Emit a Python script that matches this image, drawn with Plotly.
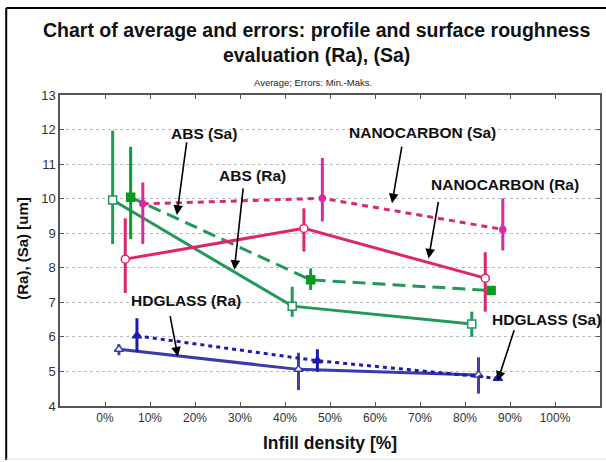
import plotly.graph_objects as go

# ---- data ----
abs_ra_x = [1.7, 41.6, 81.5]
abs_ra_y = [9.96, 6.89, 6.37]
abs_ra_hi = [11.97, 7.45, 6.73]
abs_ra_lo = [8.69, 6.58, 6.00]

abs_sa_x = [5.7, 45.7, 85.8]
abs_sa_y = [10.04, 7.65, 7.34]
abs_sa_hi = [11.50, 7.98, 7.38]
abs_sa_lo = [8.83, 7.36, 7.30]

nano_ra_x = [4.5, 44.2, 84.5]
nano_ra_y = [8.25, 9.14, 7.70]
nano_ra_hi = [9.43, 9.72, 8.45]
nano_ra_lo = [7.27, 8.47, 6.73]

nano_sa_x = [8.4, 48.3, 88.4]
nano_sa_y = [9.85, 10.01, 9.11]
nano_sa_hi = [10.47, 11.18, 10.01]
nano_sa_lo = [8.69, 9.34, 8.50]

hd_ra_x = [3.1, 43.0, 83.0]
hd_ra_y = [5.64, 5.06, 4.90]
hd_ra_hi = [5.79, 5.54, 5.41]
hd_ra_lo = [5.47, 4.46, 4.36]

hd_sa_x = [7.1, 47.2, 87.3]
hd_sa_y = [6.03, 5.31, 4.80]
hd_sa_hi = [6.54, 5.64, 4.84]
hd_sa_lo = [5.57, 4.99, 4.76]

x_tick_vals = [0, 10, 20, 30, 40, 50, 60, 70, 80, 90, 100]
x_tick_text = ["0%", "10%", "20%", "30%", "40%", "50%", "60%", "70%", "80%", "90%", "100%"]
y_tick_vals = [4, 5, 6, 7, 8, 9, 10, 11, 12, 13]

# label text, label position (data), arrow head (data), arrow tail offset (px)
labels = ["ABS (Sa)", "ABS (Ra)", "NANOCARBON (Sa)", "NANOCARBON (Ra)", "HDGLASS (Ra)", "HDGLASS (Sa)"]
label_x = [21.9, 32.8, 70.6, 88.9, 18.0, 98.1]
label_y = [11.89, 10.66, 11.91, 10.42, 7.05, 6.49]
head_x = [15.97, 28.74, 63.79, 71.91, 16.19, 87.26]
head_y = [9.53, 7.94, 9.87, 8.27, 5.43, 4.73]
tail_dx = [10, 9, 10, 10, -8, 17]
tail_dy = [-74, -83, -58, -58, -42, -52]

FONT = "Liberation Sans, Arial, sans-serif"

def err(y, hi, lo):
    return dict(type="data", symmetric=False,
                array=[h - v for h, v in zip(hi, y)],
                arrayminus=[v - l for v, l in zip(y, lo)],
                thickness=3, width=0)

fig = go.Figure()

def add(x, y, hi, lo, color, ecolor, dash, symbol, msize, mfill, mline):
    e = err(y, hi, lo)
    e["color"] = ecolor
    fig.add_trace(go.Scatter(
        x=x, y=y, mode="lines+markers",
        line=dict(color=color, width=3, dash=dash),
        marker=dict(symbol=symbol, size=msize, color=mfill,
                    line=dict(color=mline, width=1.5)),
        error_y=e, showlegend=False, cliponaxis=False))

add(abs_ra_x, abs_ra_y, abs_ra_hi, abs_ra_lo, "#23985a", "#23985a", "solid", "square", 8, "white", "#23985a")
add(abs_sa_x, abs_sa_y, abs_sa_hi, abs_sa_lo, "#23985a", "#0f9a3a", "13px,7px", "square", 8, "#0c9a1e", "#0c9a1e")
add(nano_ra_x, nano_ra_y, nano_ra_hi, nano_ra_lo, "#e0256e", "#e0256e", "solid", "circle", 8, "white", "#e0256e")
add(nano_sa_x, nano_sa_y, nano_sa_hi, nano_sa_lo, "#d42a78", "#d92aa6", "6px,5px", "circle", 6, "#d92aa6", "#d92aa6")
add(hd_ra_x, hd_ra_y, hd_ra_hi, hd_ra_lo, "#3a3aa8", "#4040a8", "solid", "triangle-up", 8, "white", "#3a3aa8")
add(hd_sa_x, hd_sa_y, hd_sa_hi, hd_sa_lo, "#1c1cb0", "#1c1cb0", "4px,4px", "triangle-up", 8, "#1c1cb0", "#1c1cb0")

ann = []
for t, lx, ly in zip(labels, label_x, label_y):
    ann.append(dict(x=lx, y=ly, xref="x", yref="y", text="<b>%s</b>" % t, showarrow=False,
                    font=dict(family=FONT, size=15.5, color="#111"), xanchor="center", yanchor="middle"))
for hx, hy, dx, dy in zip(head_x, head_y, tail_dx, tail_dy):
    ann.append(dict(x=hx, y=hy, xref="x", yref="y", text="", showarrow=True, ax=dx, ay=dy,
                    arrowhead=2, arrowsize=1.2, arrowwidth=1.6, arrowcolor="#000", standoff=0))

# titles
ann.append(dict(x=0.475, y=1.1688, xref="paper", yref="paper", xanchor="center", yanchor="middle",
                text="<b>Chart of average and errors: profile and surface roughness<br>evaluation (Ra), (Sa)</b>",
                showarrow=False, font=dict(family=FONT, size=19.5, color="#111")))
ann.append(dict(xref="paper", yref="paper", x=0.469, y=1.0418, xanchor="center", yanchor="middle",
                text="Average; Errors: Min.-Maks.", showarrow=False,
                font=dict(family=FONT, size=9.5, color="#222")))
ann.append(dict(xref="paper", yref="paper", x=-0.0683, y=0.506, xanchor="center", yanchor="middle",
                text="<b>(Ra), (Sa) [um]</b>", textangle=-90, showarrow=False,
                font=dict(family=FONT, size=15, color="#111")))
ann.append(dict(xref="paper", yref="paper", x=0.5, y=-0.119, xanchor="center", yanchor="middle",
                text="<b>Infill density [%]</b>", showarrow=False,
                font=dict(family=FONT, size=17.5, color="#111")))

shapes = [
    dict(type="line", xref="paper", yref="paper", x0=-0.0996, x1=1.02, y0=1.2797, y1=1.2797,
         line=dict(color="#000", width=2)),
    dict(type="line", xref="paper", yref="paper", x0=-0.0996, x1=-0.0996, y0=1.2797, y1=-0.1736,
         line=dict(color="#000", width=2)),
    dict(type="line", xref="paper", yref="paper", x0=-0.0996, x1=1.02, y0=-0.1704, y1=-0.1704,
         line=dict(color="#ddd", width=1)),
]

fig.update_layout(
    width=606, height=462,
    margin=dict(l=60, r=4, t=95, b=56),
    paper_bgcolor="white", plot_bgcolor="white",
    annotations=ann, shapes=shapes,
    font=dict(family=FONT, color="#333"),
)
fig.update_xaxes(range=[-10, 110], tickvals=x_tick_vals, ticktext=x_tick_text,
                 showgrid=False, zeroline=False, showline=True, linecolor="#555", linewidth=1.5,
                 mirror="ticks", ticks="inside", ticklen=4, tickcolor="#555",
                 tickfont=dict(family=FONT, size=12, color="#333"))
fig.update_yaxes(range=[4, 13], tickvals=y_tick_vals,
                 showgrid=True, gridcolor="#bbb", griddash="dot", gridwidth=1,
                 zeroline=False, showline=True, linecolor="#555", linewidth=1.5,
                 mirror="ticks", ticks="inside", ticklen=4, tickcolor="#555",
                 tickfont=dict(family=FONT, size=13, color="#333"))

fig.write_html("out.html", config={"displayModeBar": False},
               post_script="document.body.style.margin='0';document.body.style.overflow='hidden';")
